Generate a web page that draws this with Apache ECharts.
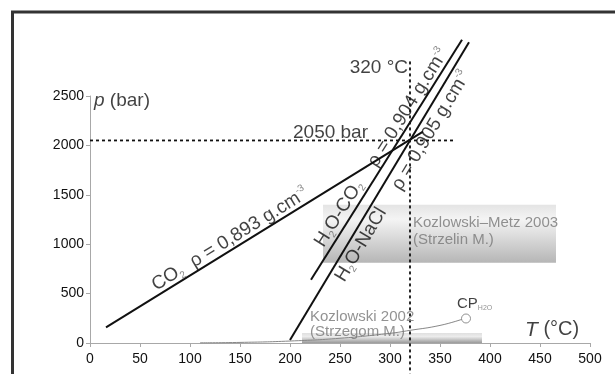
<!DOCTYPE html>
<html>
<head>
<meta charset="utf-8">
<script src="https://cdn.jsdelivr.net/npm/echarts@6/dist/echarts.min.js"></script>
<style>html,body{margin:0;padding:0;background:#fff}#c{width:615px;height:374px}</style>
</head>
<body>
<div id="c"></div>
<script>
// ---- data ----
const co2Isochore   = [[16, 158], [333, 2140]];
const h2oCo2Isochore = [[221, 640], [372, 3070]];
const h2oNaClIsochore = [[200, 30], [379, 3043]];
const vaporCurve = [[110, 2], [150, 6], [200, 20], [250, 48], [300, 98], [320, 128], [350, 178], [372, 240]];
const criticalPoint = [[376, 248]];
const isobar2050 = [[-42, 2050], [363, 2050]];
const isotherm320 = [[320, 2850], [320, -310]];
const metzBox = [[233, 813], [466, 1400]];
const strzegomBox = [[212, 0], [392, 100]];
const xRange = [0, 500, 50];
const yRange = [0, 2500, 500];

const FF = '"Liberation Sans", Arial, Helvetica, sans-serif';
const chart = echarts.init(document.getElementById('c'), null, {renderer: 'canvas'});

const richBase = {
  a: {fontSize: 19, color: '#111', fontFamily: FF, lineHeight: 22},
  i: {fontSize: 19, color: '#111', fontFamily: FF, fontStyle: 'italic', lineHeight: 22},
  s: {fontSize: 10, color: '#666', fontFamily: FF, lineHeight: 22, verticalAlign: 'bottom'},
  p: {fontSize: 10, color: '#666', fontFamily: FF, lineHeight: 22, verticalAlign: 'top'},
  g: {fontSize: 15, color: '#777', fontFamily: FF, lineHeight: 17},
  g2: {fontSize: 15, color: '#777', fontFamily: FF, lineHeight: 15},
  c: {fontSize: 15, color: '#111', fontFamily: FF, lineHeight: 16},
  cs: {fontSize: 7, color: '#777', fontFamily: FF, lineHeight: 16, verticalAlign: 'bottom'},
  T: {fontSize: 21, color: '#111', fontFamily: FF, fontStyle: 'italic', lineHeight: 24},
  Tn: {fontSize: 20, color: '#111', fontFamily: FF, lineHeight: 24},
  n: {fontSize: 19, color: '#111', fontFamily: FF, lineHeight: 22}
};

function ann(coord, fmt, rotate, align) {
  return {
    value: coord,
    label: {
      show: true, position: 'inside', formatter: fmt,
      rotate: rotate || 0, align: align || 'center', verticalAlign: 'middle',
      rich: richBase
    }
  };
}

const annotations = [
  ann([140, 1050], '{a|CO}{s|2}{a|  ρ = 0,893 g.cm}{p|-3}', 31.7),
  ann([249, 1309], '{a|H}{s|2}{a|O-CO}{s|2}', 57.8),
  ann([271, 995], '{a|H}{s|2}{a|O-NaCl}', 59),
  ann([318, 2381], '{a|ρ = 0,904 g.cm}{p|-3}', 58),
  ann([341, 2150], '{a|ρ = 0,905 g.cm}{p|-3}', 59),
  ann([318, 2787], '{n|320 °C}', 0, 'right'),
  ann([203, 2128], '{n|2050 bar}', 0, 'left'),
  ann([4, 2452], '{i|p}{n| (bar)}', 0, 'left'),
  ann([435, 135], '{T|T}{Tn| (°C)}', 0, 'left'),
  ann([323, 1135], '{g|Kozlowski–Metz 2003}\n{g|(Strzelin M.)}', 0, 'left'),
  ann([220, 190], '{g2|Kozlowski 2002}\n{g2|(Strzegom M.)}', 0, 'left'),
  ann([367, 395], '{c|CP}{cs|H2O}', 0, 'left')
];

const blackLine = (name, data) => ({
  name, type: 'line', data, symbol: 'none', clip: false, silent: true, z: 5,
  lineStyle: {color: '#111', width: 2}
});
const dotLine = (name, data) => ({
  name, type: 'line', data, symbol: 'none', clip: false, silent: true, z: 4,
  lineStyle: {color: '#111', width: 1.8, type: [3, 3]}
});

chart.setOption({
  animation: false,
  backgroundColor: '#fff',
  grid: {left: 90, right: 25, top: 96, bottom: 31},
  xAxis: {
    type: 'value', min: xRange[0], max: xRange[1], interval: xRange[2],
    axisLine: {show: true, lineStyle: {color: '#a8a8a8', width: 1}},
    axisTick: {show: true, length: 4, lineStyle: {color: '#a8a8a8'}},
    splitLine: {show: false},
    axisLabel: {fontSize: 14, color: '#111', fontFamily: FF, margin: 9, formatter: v => String(v)}
  },
  yAxis: {
    type: 'value', min: yRange[0], max: yRange[1], interval: yRange[2],
    axisLine: {show: true, lineStyle: {color: '#a8a8a8', width: 1}},
    axisTick: {show: true, length: 4, lineStyle: {color: '#a8a8a8'}},
    splitLine: {show: false},
    axisLabel: {fontSize: 14, color: '#111', fontFamily: FF, margin: 6, formatter: v => String(v)}
  },
  graphic: [{
    type: 'rect', silent: true, z: 100,
    shape: {x: 12.5, y: 12, width: 800, height: 600},
    style: {fill: null, stroke: '#333', lineWidth: 3}
  }],
  series: [
    {
      name: 'boxes', type: 'line', data: [], silent: true, z: 1,
      markArea: {
        silent: true,
        data: [
          [{coord: metzBox[0], itemStyle: {color: {type: 'linear', x: 0, y: 0, x2: 0, y2: 1,
            colorStops: [{offset: 0, color: '#e4e4e4'}, {offset: 0.25, color: '#f4f4f4'}, {offset: 1, color: '#b6b6b6'}]}}},
           {coord: metzBox[1]}],
          [{coord: strzegomBox[0], itemStyle: {color: {type: 'linear', x: 0, y: 0, x2: 0, y2: 1,
            colorStops: [{offset: 0, color: '#e0e0e0'}, {offset: 0.35, color: '#ececec'}, {offset: 1, color: '#9a9a9a'}]}}},
           {coord: strzegomBox[1]}]
        ]
      }
    },
    {
      name: 'vapor', type: 'line', data: vaporCurve, symbol: 'none', smooth: true, clip: false,
      silent: true, z: 3, lineStyle: {color: '#888', width: 1}
    },
    {
      name: 'cp', type: 'scatter', data: criticalPoint, symbol: 'circle', symbolSize: 9, z: 6,
      silent: true, itemStyle: {color: '#fff', borderColor: '#777', borderWidth: 1}
    },
    dotLine('isobar', isobar2050),
    dotLine('isotherm', isotherm320),
    blackLine('CO2', co2Isochore),
    blackLine('H2O-CO2', h2oCo2Isochore),
    blackLine('H2O-NaCl', h2oNaClIsochore),
    {
      name: 'annotations', type: 'scatter', data: annotations, symbolSize: 0, clip: false,
      silent: true, z: 10, itemStyle: {color: 'transparent'}
    }
  ]
});
</script>
</body>
</html>
